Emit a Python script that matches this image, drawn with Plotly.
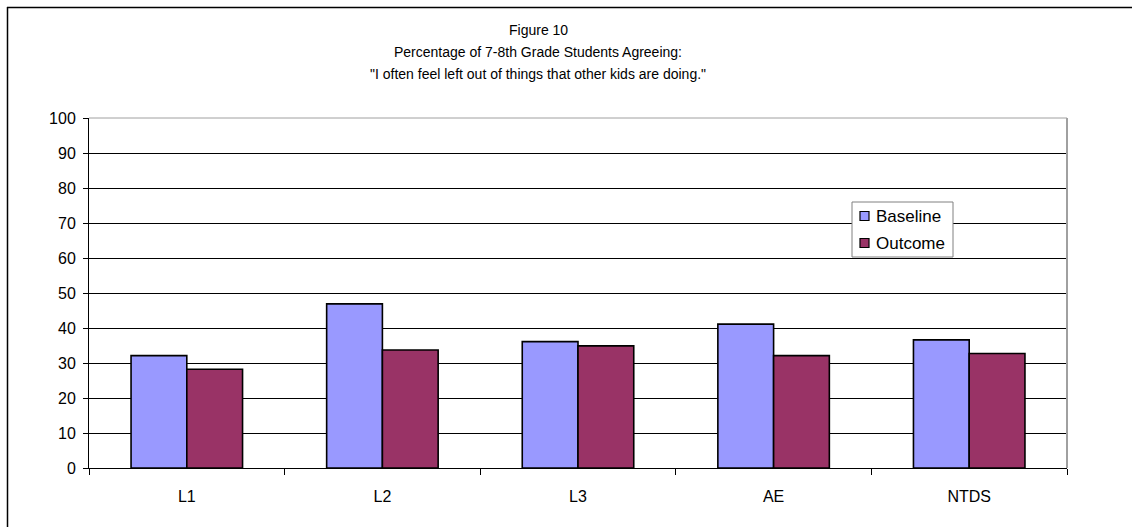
import plotly.graph_objects as go

categories = ["L1", "L2", "L3", "AE", "NTDS"]
baseline = [32.1, 46.9, 36.1, 41.1, 36.6]
outcome = [28.2, 33.7, 34.9, 32.1, 32.7]
series_names = ["Baseline", "Outcome"]
series_colors = ["#9999FF", "#993366"]
title_lines = [
    "Figure 10",
    "Percentage of 7-8th Grade Students Agreeing:",
    "\"I often feel left out of things that other kids are doing.\"",
]

W, H = 1132, 527
L, R, T, B = 89, 65, 118, 59
pw, ph = W - L - R, H - T - B

def px(x):
    return (x - L) / pw

def py(y):
    return (H - B - y) / ph

FONT = "Liberation Sans, Arial, sans-serif"

fig = go.Figure()
for name, vals, col in zip(series_names, [baseline, outcome], series_colors):
    fig.add_trace(go.Bar(x=categories, y=vals, name=name, showlegend=False,
                         marker=dict(color=col, line=dict(color="black", width=1.6))))

annotations = []
for line, yy in zip(title_lines, [30, 52, 74]):
    annotations.append(dict(text=line, x=px(538), y=py(yy), xref="paper", yref="paper",
                            showarrow=False, xanchor="center", yanchor="middle",
                            font=dict(family=FONT, size=14, color="black")))

shapes = [
    dict(type="line", xref="paper", yref="paper", x0=1, x1=1, y0=0, y1=1,
         line=dict(color="#A0A0A0", width=2)),
    dict(type="line", xref="paper", yref="paper", x0=0, x1=1, y0=1, y1=1,
         line=dict(color="#A0A0A0", width=1)),
    dict(type="line", xref="paper", yref="paper", x0=px(7), x1=px(1140), y0=py(7.5), y1=py(7.5),
         line=dict(color="black", width=1.5)),
    dict(type="line", xref="paper", yref="paper", x0=px(7.5), x1=px(7.5), y0=py(7), y1=py(540),
         line=dict(color="black", width=1.5)),
    # legend box
    dict(type="rect", xref="paper", yref="paper", x0=px(852), x1=px(953), y0=py(202), y1=py(257),
         fillcolor="white", line=dict(color="#808080", width=1), layer="above"),
]
for i, (name, col) in enumerate(zip(series_names, series_colors)):
    cy = 216 + i * 27
    shapes.append(dict(type="rect", xref="paper", yref="paper", x0=px(860), x1=px(869),
                       y0=py(cy - 4.5), y1=py(cy + 4.5), fillcolor=col,
                       line=dict(color="black", width=1.2), layer="above"))
    annotations.append(dict(text=name, x=px(874), y=py(cy), xref="paper", yref="paper",
                            showarrow=False, xanchor="left", yanchor="middle",
                            font=dict(family=FONT, size=17, color="black")))

fig.update_layout(
    width=W, height=H,
    margin=dict(l=L, r=R, t=T, b=B),
    paper_bgcolor="white", plot_bgcolor="white",
    barmode="group", bargap=0.43, bargroupgap=0,
    font=dict(family=FONT, size=15, color="black"),
    showlegend=False,
    annotations=annotations,
    shapes=shapes,
    xaxis=dict(showgrid=False, ticks="outside", tickson="boundaries", ticklen=6,
               tickcolor="black", showline=True, linecolor="black", linewidth=1,
               ticklabelstandoff=14, tickfont=dict(family=FONT, size=16)),
    yaxis=dict(range=[0, 100], dtick=10, showgrid=True, gridcolor="black", gridwidth=1,
               ticks="outside", ticklen=5, tickcolor="black", showline=True,
               linecolor="black", linewidth=1, zeroline=False, ticklabelstandoff=4,
               tickfont=dict(family=FONT, size=16)),
)

fig.write_html("out.html")
